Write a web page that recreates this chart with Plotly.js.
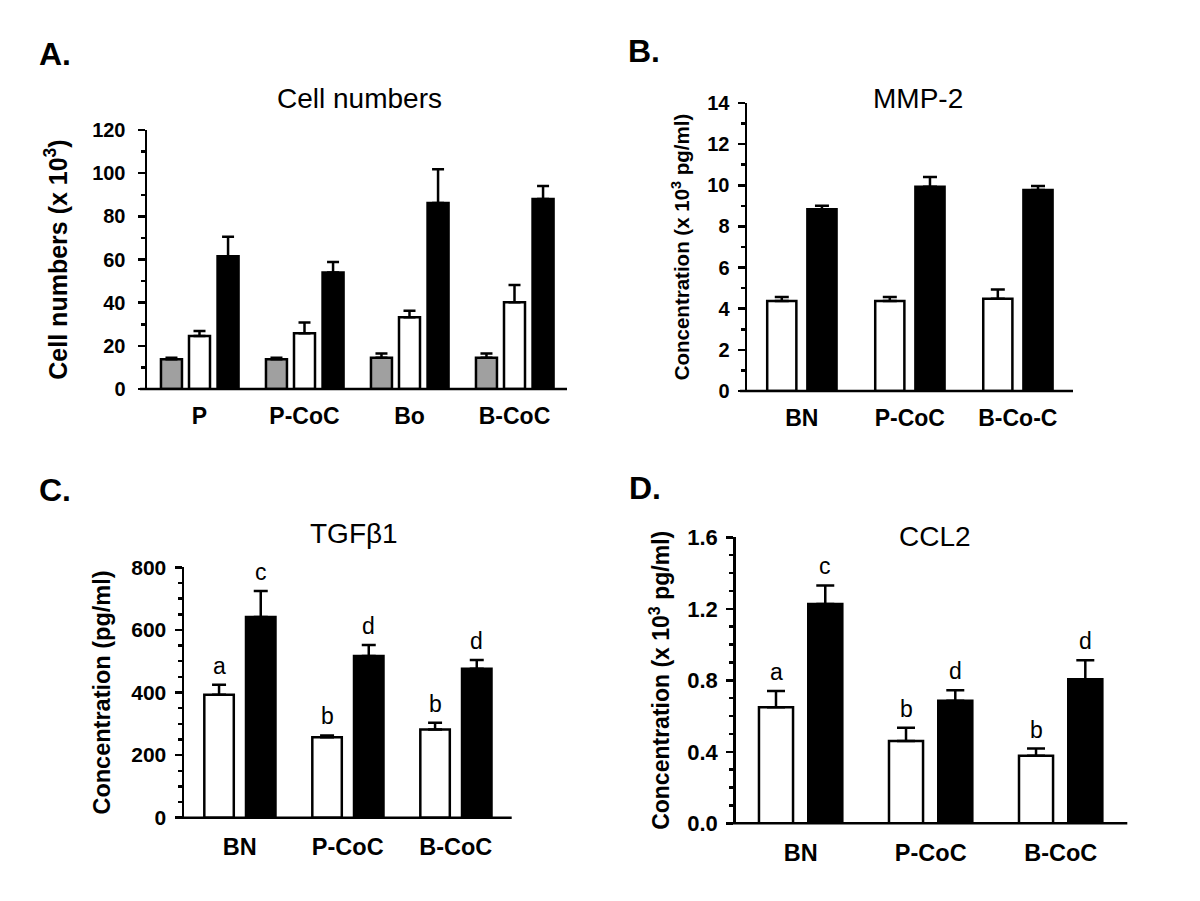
<!DOCTYPE html>
<html><head><meta charset="utf-8">
<script src="https://cdn.plot.ly/plotly-3.0.1.min.js"></script>
<style>html,body{margin:0;padding:0;background:#fff}#chart{width:1200px;height:901px}</style>
</head><body><div id="chart"></div>
<script>
// ---- Panel A: Cell numbers (x 10^3)
const cellCategories = ['P', 'P-CoC', 'Bo', 'B-CoC'];
const cellGray = [13.8, 13.8, 14.5, 14.5];
const cellGrayErr = [0.7, 0.7, 2.0, 2.0];
const cellWhite = [24.5, 25.8, 33.2, 40.2];
const cellWhiteErr = [2.4, 5.0, 3.0, 8.0];
const cellBlack = [61.5, 54.0, 86.2, 88.0];
const cellBlackErr = [9.0, 4.8, 15.6, 6.0];
// ---- Panel B: MMP-2 (x 10^3 pg/ml)
const mmpCategories = ['BN', 'P-CoC', 'B-Co-C'];
const mmpWhite = [4.37, 4.37, 4.49];
const mmpWhiteErr = [0.2, 0.2, 0.45];
const mmpBlack = [8.83, 9.93, 9.77];
const mmpBlackErr = [0.18, 0.47, 0.2];
// ---- Panel C: TGFβ1 (pg/ml)
const tgfCategories = ['BN', 'P-CoC', 'B-CoC'];
const tgfWhite = [393, 257, 282];
const tgfWhiteErr = [32, 6, 21];
const tgfBlack = [641, 517, 476];
const tgfBlackErr = [83, 35, 28];
const tgfWhiteLetters = ['a', 'b', 'b'];
const tgfBlackLetters = ['c', 'd', 'd'];
// ---- Panel D: CCL2 (x 10^3 pg/ml)
const cclCategories = ['BN', 'P-CoC', 'B-CoC'];
const cclWhite = [0.649, 0.460, 0.378];
const cclWhiteErr = [0.091, 0.075, 0.040];
const cclBlack = [1.227, 0.686, 0.806];
const cclBlackErr = [0.104, 0.058, 0.106];
const cclWhiteLetters = ['a', 'b', 'b'];
const cclBlackLetters = ['c', 'd', 'd'];

const W = 1200, H = 901;
const FONT = 'Arial, "Liberation Sans", Helvetica, sans-serif';
const px = v => v / W;
const py = v => 1 - v / H;

function barTrace(xa, ya, cats, vals, errs, color, offset, width, capw, name) {
  return {
    type: 'bar', name: name, x: cats, y: vals, xaxis: xa, yaxis: ya,
    offset: offset, width: width, showlegend: false,
    marker: {color: color, line: {color: '#000', width: 2.5}},
    error_y: {type: 'data', symmetric: false, array: errs, arrayminus: errs.map(() => 0),
              color: '#000', thickness: 2.5, width: capw}
  };
}

const traces = [
  barTrace('x', 'y', cellCategories, cellGray, cellGrayErr, '#a0a0a0', -0.367, 0.2, 6, 'Gray'),
  barTrace('x', 'y', cellCategories, cellWhite, cellWhiteErr, '#ffffff', -0.1, 0.2, 6, 'White'),
  barTrace('x', 'y', cellCategories, cellBlack, cellBlackErr, '#000000', 0.172, 0.2, 6, 'Black'),
  barTrace('x2', 'y2', mmpCategories, mmpWhite, mmpWhiteErr, '#ffffff', -0.32, 0.27, 7, 'White'),
  barTrace('x2', 'y2', mmpCategories, mmpBlack, mmpBlackErr, '#000000', 0.052, 0.27, 7, 'Black'),
  barTrace('x3', 'y3', tgfCategories, tgfWhite, tgfWhiteErr, '#ffffff', -0.328, 0.273, 7, 'White'),
  barTrace('x3', 'y3', tgfCategories, tgfBlack, tgfBlackErr, '#000000', 0.058, 0.273, 7, 'Black'),
  barTrace('x4', 'y4', cclCategories, cclWhite, cclWhiteErr, '#ffffff', -0.321, 0.262, 9, 'White'),
  barTrace('x4', 'y4', cclCategories, cclBlack, cclBlackErr, '#000000', 0.058, 0.262, 9, 'Black')
];

function xAxis(x0, x1, range, anchor, tickSize, standoff) {
  return {domain: [px(x0), px(x1)], range: range, anchor: anchor, type: 'category',
    showline: false, ticks: '', showgrid: false, zeroline: false, fixedrange: true,
    tickfont: {family: FONT, size: tickSize, color: '#000', weight: 'bold'},
    ticklabelstandoff: standoff};
}
function yAxis(y0, y1, range, anchor, dtick, minor, title, titleSize, standoff, tickSize, labStand, fmt) {
  return {domain: [py(y1), py(y0)], range: range, anchor: anchor, dtick: dtick, tick0: 0,
    showline: true, linecolor: '#000', linewidth: 2.5, ticks: 'outside', ticklen: 7,
    tickwidth: 2.5, tickcolor: '#000', showgrid: false, zeroline: false, fixedrange: true,
    tickformat: fmt || '',
    minor: {dtick: minor, tick0: 0, ticks: 'outside', ticklen: 4, tickwidth: 2.5, tickcolor: '#000', showgrid: false},
    tickfont: {family: FONT, size: tickSize, color: '#000', weight: 'bold'},
    ticklabelstandoff: labStand,
    title: {text: title, font: {family: FONT, size: titleSize, color: '#000', weight: 'bold'}, standoff: standoff}};
}

const layout = {
  width: W, height: H, margin: {l: 0, r: 0, t: 0, b: 0},
  paper_bgcolor: '#fff', plot_bgcolor: 'rgba(0,0,0,0)',
  barmode: 'overlay', showlegend: false,
  font: {family: FONT, color: '#000'},
  xaxis: xAxis(147, 567, [-0.5, 3.5], 'y', 23, 11),
  yaxis: yAxis(130, 389, [0, 120], 'x', 20, 10, 'Cell numbers (x 10<sup>3</sup>)', 25, 18, 20, 8),
  xaxis2: xAxis(747, 1073, [-0.507, 2.511], 'y2', 23, 11),
  yaxis2: yAxis(103, 391, [0, 14], 'x2', 2, 1, 'Concentration (x 10<sup>3</sup> pg/ml)', 20.5, 12, 20, 4),
  xaxis3: xAxis(184, 511.7, [-0.516, 2.518], 'y3', 23.5, 13),
  yaxis3: yAxis(567.3, 817.7, [0, 800], 'x3', 200, 50, 'Concentration (pg/ml)', 23.5, 14, 21, 4),
  xaxis4: xAxis(735.7, 1127.3, [-0.5, 2.512], 'y4', 23.5, 13),
  yaxis4: yAxis(537.3, 823.3, [0, 1.6], 'x4', 0.4, 0.1, 'Concentration (x 10<sup>3</sup> pg/ml)', 23, 11, 22, 4, '.1f'),
  shapes: [], annotations: []
};

// x-axis baselines (extend slightly left past the y axis like the original)
[['x', 'y', 7 / 420], ['x2', 'y2', 7 / 326], ['x3', 'y3', 5 / 328], ['x4', 'y4', 9 / 392]].forEach(([xa, ya, ext]) => {
  layout.shapes.push({type: 'line', xref: xa + ' domain', yref: ya + ' domain', x0: -ext, x1: 1, y0: 0, y1: 0,
    line: {color: '#000', width: 2.5}, layer: 'above'});
});

// panel titles and letters
const titles = [['Cell numbers', 359, 98], ['MMP-2', 918, 98], ['TGF\u03B21', 354, 533], ['CCL2', 935, 536]];
titles.forEach(([t, x, y]) => layout.annotations.push({text: t, xref: 'paper', yref: 'paper', x: px(x), y: py(y),
  xanchor: 'center', yanchor: 'middle', showarrow: false, font: {family: FONT, size: 28, color: '#000'}}));
const panels = [['A.', 37, 54], ['B.', 626, 51], ['C.', 37, 490], ['D.', 627, 488]];
panels.forEach(([t, x, y]) => layout.annotations.push({text: t, xref: 'paper', yref: 'paper', x: px(x), y: py(y),
  xanchor: 'left', yanchor: 'middle', showarrow: false, font: {family: FONT, size: 32, color: '#000', weight: 'bold'}}));

// significance letters above error bars
function letters(xa, ya, vals, errs, labs, offset, width) {
  labs.forEach((l, i) => layout.annotations.push({text: l, xref: xa, yref: ya, x: i + offset + width / 2,
    y: vals[i] + errs[i], xanchor: 'center', yanchor: 'bottom', yshift: 4, showarrow: false,
    font: {family: FONT, size: 23, color: '#000'}}));
}
letters('x3', 'y3', tgfWhite, tgfWhiteErr, tgfWhiteLetters, -0.328, 0.273);
letters('x3', 'y3', tgfBlack, tgfBlackErr, tgfBlackLetters, 0.058, 0.273);
letters('x4', 'y4', cclWhite, cclWhiteErr, cclWhiteLetters, -0.321, 0.262);
letters('x4', 'y4', cclBlack, cclBlackErr, cclBlackLetters, 0.058, 0.262);

Plotly.newPlot('chart', traces, layout, {staticPlot: true, displayModeBar: false});
</script>
</body></html>
